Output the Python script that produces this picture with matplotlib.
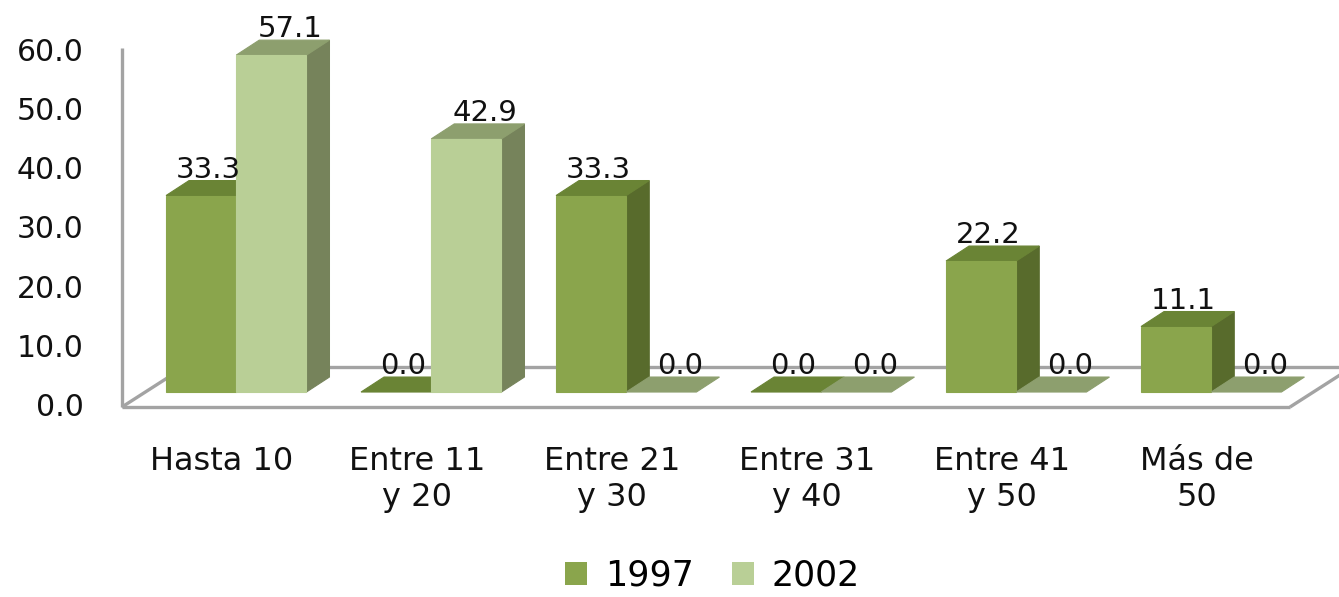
import matplotlib.pyplot as plt
from matplotlib.patches import Polygon, Patch

# Data
categories = ["Hasta 10", "Entre 11\ny 20", "Entre 21\ny 30", "Entre 31\ny 40", "Entre 41\ny 50", "Más de\n50"]
series_names = ["1997", "2002"]
values_1997 = [33.3, 0.0, 33.3, 0.0, 22.2, 11.1]
values_2002 = [57.1, 42.9, 0.0, 0.0, 0.0, 0.0]
yticks = [0, 10, 20, 30, 40, 50, 60]

# face colours: front, top, side
colors = {
    "1997": ("#8aa54c", "#6a8435", "#586b2c"),
    "2002": ("#b9cf96", "#8d9f6e", "#76835b"),
}

fig = plt.figure(figsize=(13.39, 5.97), dpi=100)
ax = fig.add_axes([0, 0, 1, 1])
ax.set_xlim(-1.1385, 5.7282)
ax.set_ylim(-32.2, 68.98)
ax.axis("off")

# 3D look: depth offset of the bar boxes and of the floor
ddx, ddv = 0.118, 2.54
base = 2.54
bar_w = 0.36
first_left = -0.287
floor_dx, floor_dv = 0.32, 6.78
floor_left, floor_right = -0.513, 5.477

line_kw = dict(color="#a3a3a3", lw=2.4, solid_capstyle="butt", zorder=1)
# value axis line and floor outline
ax.plot([floor_left, floor_left], [0, 60.8], **line_kw)
ax.plot([floor_left, floor_right], [0, 0], **line_kw)
ax.plot([floor_left, floor_left + floor_dx], [0, floor_dv], **line_kw)
ax.plot([floor_right, floor_right + floor_dx], [0, floor_dv], **line_kw)
ax.plot([floor_left + floor_dx, floor_right + floor_dx], [floor_dv, floor_dv], **line_kw)


def face(pts, col):
    # edge in the same colour closes the anti-aliasing seams between faces
    ax.add_patch(Polygon(pts, closed=True, fc=col, ec=col, lw=0.8, zorder=2))


def draw_bar(xl, h, cols, label_shift):
    front, top, side = cols
    b = base
    if h > 0:
        face([(xl + bar_w, b), (xl + bar_w + ddx, b + ddv),
              (xl + bar_w + ddx, b + h + ddv), (xl + bar_w, b + h)], side)
        face([(xl, b + h), (xl + bar_w, b + h),
              (xl + bar_w + ddx, b + h + ddv), (xl + ddx, b + h + ddv)], top)
        face([(xl, b), (xl + bar_w, b), (xl + bar_w, b + h), (xl, b + h)], front)
    else:
        face([(xl, b), (xl + bar_w, b),
              (xl + bar_w + ddx, b + ddv), (xl + ddx, b + ddv)], top)
    ax.text(xl + bar_w / 2 + label_shift, b + h + ddv + 0.5, f"{h:.1f}",
            ha="center", va="baseline", fontsize=21, color="#111111", zorder=3)


for i in range(len(categories)):
    xl = i + first_left
    draw_bar(xl, values_1997[i], colors["1997"], 0.035)
    draw_bar(xl + bar_w, values_2002[i], colors["2002"], 0.095)
    ax.text(i, -6.6, categories[i], ha="center", va="top", fontsize=23,
            linespacing=1.2, color="#111111")

for t in yticks:
    ax.text(-0.71, t, f"{t:.1f}", ha="right", va="center", fontsize=21.5, color="#111111")

handles = [Patch(fc=colors[n][0], ec="none") for n in series_names]
fig.legend(handles, series_names, loc="lower center", bbox_to_anchor=(0.532, -0.045), ncol=2,
           frameon=False, fontsize=25, handlelength=0.65, handleheight=0.65,
           handletextpad=0.5, columnspacing=1.1)

fig.savefig("out.png", dpi=100)
